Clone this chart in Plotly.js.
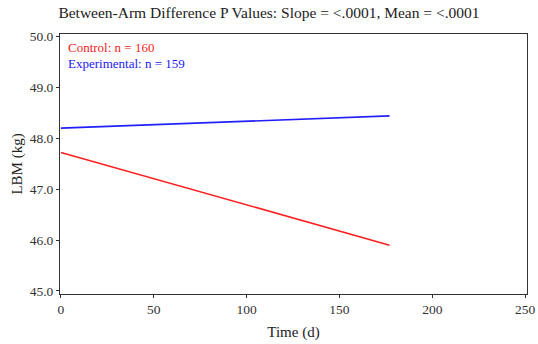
<!DOCTYPE html>
<html>
<head>
<meta charset="utf-8">
<script src="https://cdn.plot.ly/plotly-3.0.1.min.js"></script>
<style>html,body{margin:0;padding:0;background:#fff;}#chart{width:538px;height:344px;}</style>
</head>
<body>
<div id="chart"></div>
<script>
// Fitted LBM trajectories per study arm
const timeDays = [0, 177];
const controlLBM = [47.72, 45.90];
const experimentalLBM = [48.20, 48.44];
const armLabels = ["Control: n = 160", "Experimental: n = 159"];
const armColors = ["#ff2020", "#2020ff"];

const serif = "Liberation Serif, Times New Roman, serif";

const traces = [
  {x: timeDays, y: controlLBM, mode: "lines", line: {color: armColors[0], width: 1.6}, hoverinfo: "skip"},
  {x: timeDays, y: experimentalLBM, mode: "lines", line: {color: armColors[1], width: 1.6}, hoverinfo: "skip"}
];

const layout = {
  width: 538, height: 344,
  margin: {l: 60, r: 11, t: 34, b: 50},
  paper_bgcolor: "#fff", plot_bgcolor: "#fff",
  showlegend: false,
  font: {family: serif, color: "#222", size: 13},
  title: {text: "Between-Arm Difference P Values: Slope = <.0001, Mean = <.0001",
          font: {family: serif, size: 15.5, color: "#222"}, x: 0.5, xanchor: "center", y: 0.962, yanchor: "middle"},
  xaxis: {
    range: [-0.5, 251], tickvals: [0, 50, 100, 150, 200, 250],
    showgrid: false, zeroline: false, showline: true, linecolor: "#333", linewidth: 1, mirror: true,
    ticks: "outside", ticklen: 3, tickcolor: "#333",
    tickfont: {family: serif, size: 13.5, color: "#333"},
    title: {text: "Time (d)", font: {family: serif, size: 15, color: "#222"}, standoff: 10}
  },
  yaxis: {
    range: [44.94, 50.05], tickvals: [45, 46, 47, 48, 49, 50], tickformat: ".1f",
    showgrid: false, zeroline: false, showline: true, linecolor: "#333", linewidth: 1, mirror: true,
    ticks: "outside", ticklen: 3, tickcolor: "#333",
    tickfont: {family: serif, size: 13.5, color: "#333"},
    title: {text: "LBM (kg)", font: {family: serif, size: 15, color: "#222"}, standoff: 3}
  },
  annotations: armLabels.map((t, i) => ({
    text: t, xref: "paper", yref: "paper", x: 0.012, y: 0.985 - i * 0.062,
    xanchor: "left", yanchor: "top", showarrow: false,
    font: {family: serif, size: 13, color: armColors[i]}
  }))
};

Plotly.newPlot("chart", traces, layout, {staticPlot: true, displayModeBar: false});
</script>
</body>
</html>
